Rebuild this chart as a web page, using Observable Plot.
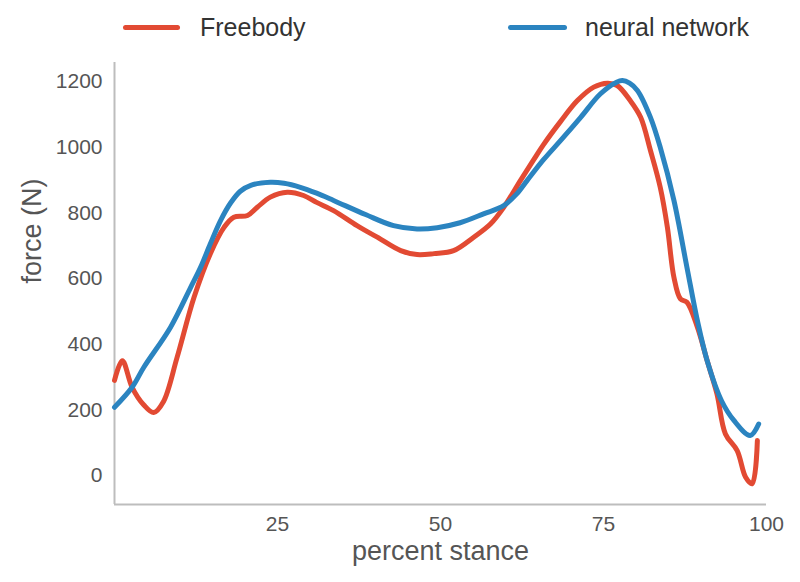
<!DOCTYPE html>
<html>
<head>
<meta charset="utf-8">
<script src="https://cdn.jsdelivr.net/npm/d3@7"></script>
<script src="https://cdn.jsdelivr.net/npm/@observablehq/plot@0.6"></script>
<style>
  html, body { margin: 0; padding: 0; background: #fff; }
  body { width: 800px; height: 582px; overflow: hidden; font-family: "Liberation Sans", Arial, sans-serif; }
  #legend { position: relative; width: 800px; height: 55px; }
  .sw { position: absolute; top: 25px; height: 5px; border-radius: 3px; }
  .lt { position: absolute; top: 12px; font-size: 25px; color: #333; line-height: 30px; }
</style>
</head>
<body>
<div id="legend"></div>
<div id="chart"></div>
<script>
// Series names and colours
const seriesNames = ["Freebody", "neural network"];
const seriesColors = ["#e24a33", "#2b84c0"];

// Freebody (percent stance, force N)
const stanceFB = [0, 1.2, 2.7, 4.5, 6, 7.5, 9.6, 12.2, 14.7, 16.8, 18.3, 20.4, 21.9, 23.9, 26.5, 29, 31, 33.6, 37.2, 40.3, 43.9, 46.4, 49, 52, 55.1, 57.7, 59.7, 62.3, 64.3, 65.8, 68.4, 71, 73.5, 75.6, 77.1, 79.1, 80.7, 82.2, 83.7, 84.8, 85.8, 86.8, 87.8, 89.4, 90.9, 92.4, 93.7, 95.5, 96.8, 97.8, 98.6];
const forceFB  = [290, 350, 269, 215, 192, 225, 360, 543, 676, 756, 787, 792, 817, 848, 863, 853, 832, 807, 761, 726, 685, 673, 676, 685, 726, 767, 817, 900, 962, 1008, 1078, 1142, 1183, 1195, 1188, 1142, 1091, 990, 878, 756, 604, 538, 528, 452, 350, 249, 127, 76, -5, -25, 107];

// neural network (percent stance, force N)
const stanceNN = [0, 2.7, 4.5, 8.6, 11.7, 13.2, 14.7, 16.3, 17.8, 19.3, 20.9, 23.9, 26, 28.5, 31, 33.6, 38.5, 42.8, 46.4, 49.5, 53, 56.6, 59.7, 61.7, 63.3, 65.8, 68.4, 71.5, 74.5, 77, 77.9, 79, 80.2, 82.2, 83.7, 85.8, 87.8, 89.4, 90.9, 93.1, 95, 97.5, 98.8];
const forceNN  = [208, 269, 330, 452, 574, 634, 706, 778, 830, 866, 884, 893, 890, 878, 860, 838, 795, 761, 751, 755, 770, 797, 822, 858, 899, 962, 1020, 1091, 1162, 1198, 1203, 1195, 1173, 1091, 1000, 838, 634, 472, 350, 228, 168, 122, 157];

// Axis ticks
const xTicks = [25, 50, 75, 100];
const yTicks = [0, 200, 400, 600, 800, 1000, 1200];
const xDomain = [0, 100];
const yDomain = [-88, 1258];

const data = [
  ...stanceFB.map((s, i) => ({series: seriesNames[0], stance: s, force: forceFB[i]})),
  ...stanceNN.map((s, i) => ({series: seriesNames[1], stance: s, force: forceNN[i]}))
];

// Legend
const legend = document.getElementById("legend");
const legendPos = [{line: 123, w: 57, text: 200}, {line: 508, w: 59, text: 585}];
seriesNames.forEach((n, i) => {
  const sw = document.createElement("div");
  sw.className = "sw";
  sw.style.left = legendPos[i].line + "px";
  sw.style.width = legendPos[i].w + "px";
  sw.style.background = seriesColors[i];
  legend.appendChild(sw);
  const t = document.createElement("div");
  t.className = "lt";
  t.style.left = legendPos[i].text + "px";
  t.textContent = n;
  legend.appendChild(t);
});

const chart = Plot.plot({
  width: 800,
  height: 527,
  marginTop: 7,
  marginBottom: 78,
  marginLeft: 114,
  marginRight: 34,
  style: {fontFamily: "Liberation Sans, Arial, sans-serif", background: "#fff"},
  x: {domain: xDomain, ticks: xTicks, label: null},
  y: {domain: yDomain, ticks: yTicks, label: null},
  color: {domain: seriesNames, range: seriesColors},
  marks: [
    Plot.axisX({ticks: xTicks, tickSize: 0, tickPadding: 12, fontSize: 21, color: "#555", label: null, tickFormat: d => String(d)}),
    Plot.axisY({ticks: yTicks, tickSize: 0, tickPadding: 12, fontSize: 21, color: "#555", label: null, tickFormat: d => String(d)}),
    Plot.ruleX([xDomain[0]], {stroke: "#bdbdbd", strokeWidth: 2}),
    Plot.ruleY([yDomain[0]], {stroke: "#bdbdbd", strokeWidth: 2}),
    Plot.line(data, {x: "stance", y: "force", z: "series", stroke: "series", strokeWidth: 5, curve: "catmull-rom", strokeLinejoin: "round", strokeLinecap: "round"}),
    Plot.text(["percent stance"], {frameAnchor: "bottom", lineAnchor: "middle", dy: 47, fontSize: 27, fill: "#555", text: d => d}),
    Plot.text(["force (N)"], {frameAnchor: "left", dx: -82, rotate: -90, fontSize: 27, fill: "#555", text: d => d})
  ]
});
document.getElementById("chart").appendChild(chart);
</script>
</body>
</html>
